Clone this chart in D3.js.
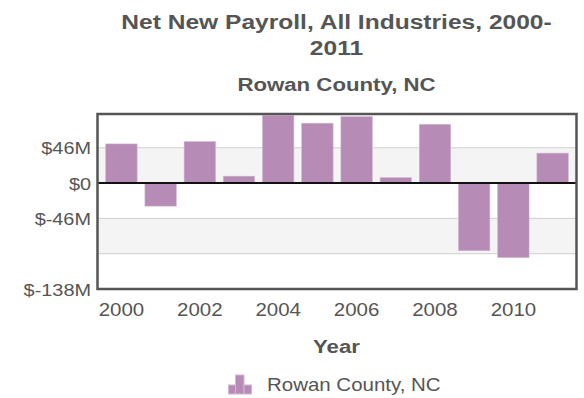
<!DOCTYPE html>
<html>
<head>
<meta charset="utf-8">
<script src="https://cdn.jsdelivr.net/npm/d3@7"></script>
<style>
  html, body { margin: 0; padding: 0; background: #fff; }
  svg { display: block; font-family: "Liberation Sans", Arial, sans-serif; }
</style>
</head>
<body>
<svg id="chart" width="584" height="398"></svg>
<script>
// Net new payroll by year, millions of dollars
const years = [2000, 2001, 2002, 2003, 2004, 2005, 2006, 2007, 2008, 2009, 2010, 2011];
const payroll = [51, -30, 54, 9, 88, 78, 86.5, 7, 76.5, -88, -97, 39];
const tickValues = [46, 0, -46, -138];
const tickLabels = ["$46M", "$0", "$-46M", "$-138M"];
const gridValues = [46, -46, -92];
const bandEdges = [[0, 46], [-92, -46]];
const xLabelYears = [2000, 2002, 2004, 2006, 2008, 2010];

const svg = d3.select("#chart");
const m = { left: 97.5, right: 7.5, top: 114, bottom: 109 };
const W = 584, H = 398;
const iw = W - m.left - m.right, ih = H - m.top - m.bottom;
const SX = 1.17;          // horizontal text stretch
const textColor = "#555";
const barColor = "#b68bb5";

const x = d3.scaleBand().domain(years).range([m.left, m.left + iw])
  .paddingInner(0.2).paddingOuter(0.21);
const y = d3.scaleLinear().domain([-138, 90]).range([m.top + ih, m.top]);

function stretchedText(g, tx, ty, txt, size, weight, anchor) {
  return g.append("text")
    .attr("transform", `translate(${tx},${ty}) scale(${SX},1)`)
    .attr("text-anchor", anchor || "middle")
    .attr("font-size", size)
    .attr("font-weight", weight || "normal")
    .attr("fill", textColor)
    .text(txt);
}

// Titles
const cx = m.left + iw / 2 - 0.5;
stretchedText(svg, cx, 29, "Net New Payroll, All Industries, 2000-", 21, "bold");
stretchedText(svg, cx, 55, "2011", 21, "bold");
stretchedText(svg, cx, 91, "Rowan County, NC", 19, "bold");

// Alternating background bands
svg.append("g").selectAll("rect").data(bandEdges).join("rect")
  .attr("x", m.left).attr("width", iw)
  .attr("y", d => y(d[1])).attr("height", d => y(d[0]) - y(d[1]))
  .attr("fill", "#f4f4f4");

// Gridlines
svg.append("g").selectAll("line").data(gridValues).join("line")
  .attr("x1", m.left).attr("x2", m.left + iw)
  .attr("y1", d => y(d)).attr("y2", d => y(d))
  .attr("stroke", "#cfcfcf").attr("stroke-width", 1);

// Bars
svg.append("g").selectAll("rect").data(years).join("rect")
  .attr("x", d => x(d)).attr("width", x.bandwidth())
  .attr("y", (d, i) => y(Math.max(0, payroll[i])))
  .attr("height", (d, i) => Math.abs(y(payroll[i]) - y(0)))
  .attr("fill", barColor)
  .attr("stroke", "#cfb3ce").attr("stroke-width", 0.6);

// Zero line
svg.append("line")
  .attr("x1", m.left).attr("x2", m.left + iw)
  .attr("y1", y(0)).attr("y2", y(0))
  .attr("stroke", "#111").attr("stroke-width", 2);

// Plot border
svg.append("rect")
  .attr("x", m.left).attr("y", m.top).attr("width", iw).attr("height", ih)
  .attr("fill", "none").attr("stroke", "#555").attr("stroke-width", 2.5);

// Y axis labels
const yAxis = svg.append("g").attr("transform", `translate(${m.left},0)`)
  .call(d3.axisLeft(y).tickValues(tickValues).tickSize(0).tickPadding(0)
    .tickFormat((d, i) => tickLabels[i]));
yAxis.select(".domain").remove();
yAxis.selectAll("text")
  .attr("x", -6.5 / SX).attr("dy", "0.36em")
  .attr("transform", `scale(${SX},1)`)
  .attr("font-size", 17).attr("fill", textColor)
  .attr("font-family", "Liberation Sans, Arial, sans-serif");

// X axis labels
const xAxis = svg.append("g").attr("transform", `translate(0,${m.top + ih})`)
  .call(d3.axisBottom(x).tickValues(xLabelYears).tickSize(0).tickPadding(0));
xAxis.select(".domain").remove();
xAxis.selectAll("text")
  .attr("y", 27).attr("dy", 0)
  .attr("transform", `scale(${SX},1)`)
  .attr("font-size", 17.5).attr("fill", textColor)
  .attr("font-family", "Liberation Sans, Arial, sans-serif");

stretchedText(svg, cx, 353, "Year", 19, "bold");

// Legend: small bar-chart glyph plus series name
const lg = svg.append("g");
const iconBars = [[228.5, 385, 7], [235.5, 375, 8.5], [244, 385, 7.5]];
lg.selectAll("rect").data(iconBars).join("rect")
  .attr("x", d => d[0]).attr("y", d => d[1]).attr("width", d => d[2])
  .attr("height", d => 394 - d[1]).attr("fill", barColor)
  .attr("stroke", "#d2b8d1").attr("stroke-width", 1);
stretchedText(lg, 267, 391, "Rowan County, NC", 17.5, "normal", "start");
</script>
</body>
</html>
